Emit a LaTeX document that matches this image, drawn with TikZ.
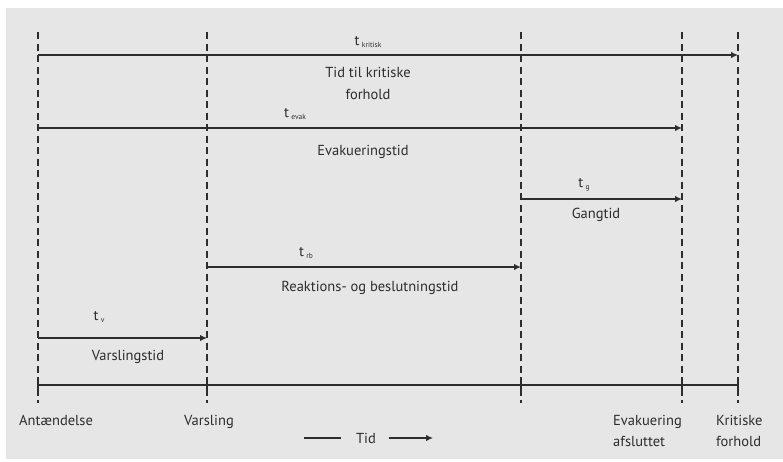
\documentclass[tikz,border=0pt]{standalone}
\usepackage{fontspec}
\setmainfont{PT Sans}
\usetikzlibrary{positioning,arrows.meta}
\definecolor{panel}{RGB}{230,230,230}
\definecolor{ink}{RGB}{45,45,45}
\newcommand{\tsub}[1]{t\,\raisebox{-2.5pt}{\fontsize{7.5}{8}\selectfont #1}}
\begin{document}
\begin{tikzpicture}[x=1pt, y=-1pt,
                    every node/.style={font=\fontsize{14.5}{21}\selectfont, text=ink, inner sep=1pt},
                    span/.style={-{Latex[length=7pt, width=6.5pt]}, draw=ink, line width=1.5pt},
                    marker/.style={draw=ink, line width=1.6pt, dash pattern=on 7pt off 4.5pt},
                    event/.style={align=left, anchor=north west},
                ]
                \useasboundingbox (0,0) rectangle (783,461);
                \fill[panel] (6,8) rectangle (783,459);

                % event columns
                \coordinate (ant) at (38,385);
                \coordinate (vars) at (207,385);
                \coordinate (rb) at (521,385);
                \coordinate (evak) at (682,385);
                \coordinate (krit) at (738,385);
                \foreach \c in {ant,vars,rb,evak,krit} {
                    \draw[marker] (\c |- 0,32) -- (\c |- 0,403);
                    \draw[ink, line width=1.5pt] ([yshift=-5pt]\c) -- ([yshift=5pt]\c);
                }
                \draw[ink, line width=1.5pt] (ant) -- (krit);

                % time spans
                \draw[span] (ant |- 0,55) -- (krit |- 0,55);
                \draw[span] (ant |- 0,128) -- (evak |- 0,128);
                \draw[span] (rb |- 0,199) -- (evak |- 0,199);
                \draw[span] (vars |- 0,267) -- (rb |- 0,267);
                \draw[span] (ant |- 0,338) -- (vars |- 0,338);

                \node (tkrit) at (368,42) {\tsub{kritisk}};
                \node[align=center] (tkrit_txt) at (368,83) {Tid til kritiske\\[1pt]forhold};
                \node (tevak) at (295,114) {\tsub{evak}};
                \node (tevak_txt) at (363,152) {Evakueringstid};
                \node (tg) at (584,185) {\tsub{g}};
                \node (tg_txt) at (596,215) {Gangtid};
                \node (trb) at (306,253) {\tsub{rb}};
                \node (trb_txt) at (370,288) {Reaktions- og beslutningstid};
                \node (tv) at (99,317) {\tsub{v}};
                \node (tv_txt) at (128,357) {Varslingstid};

                % events
                \node[event] (l_ant) at (18,414) {Antændelse};
                \node[event] (l_vars) at (183,414) {Varsling};
                \node[event] (l_evak) at (612,414) {Evakuering\\afsluttet};
                \node[event] (l_krit) at (715,414) {Kritiske\\forhold};

                % time direction
                \node (tid) at (366,438) {Tid};
                \coordinate[left=14pt of tid] (tid_a);
                \coordinate[left=51pt of tid] (tid_b);
                \coordinate[right=12pt of tid] (tid_c);
                \coordinate[right=56pt of tid] (tid_d);
                \draw[ink, line width=1.5pt] (tid_b) -- (tid_a);
                \draw[span] (tid_c) -- (tid_d);
            \end{tikzpicture}
\end{document}
